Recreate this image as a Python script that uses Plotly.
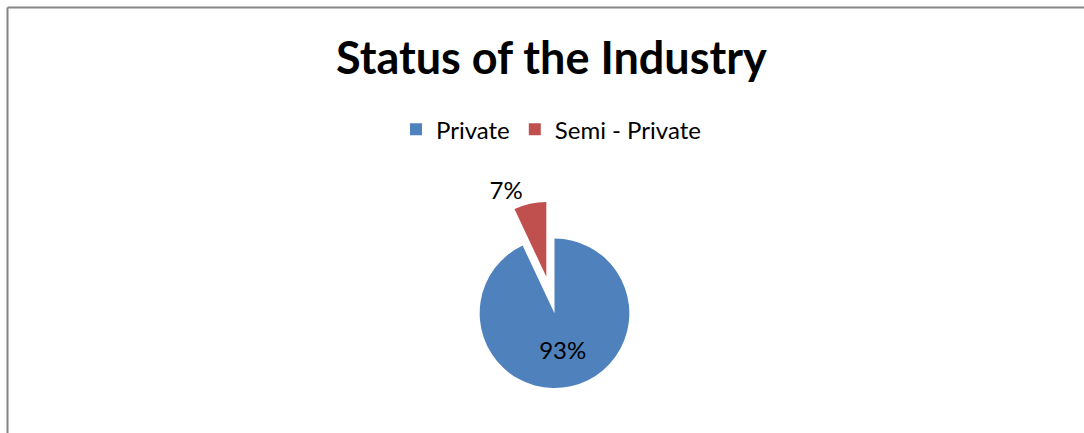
import plotly.graph_objects as go

W, H = 1084, 433       # reference picture size
HL = 468               # layout height (picture appears squeezed ~0.925 vertically)

labels = ["Private", "Semi - Private"]
values = [93, 7]
colors = ["#4F81BD", "#C0504D"]
pulls = [0, 0.5]
title_text = "Status of the Industry"

fig = go.Figure()
fig.add_trace(go.Pie(
    labels=labels,
    values=values,
    marker=dict(colors=colors, line=dict(width=0)),
    pull=pulls,
    sort=False,
    direction="clockwise",
    rotation=0,
    textinfo="percent",
    textposition=["inside", "outside"],
    insidetextorientation="horizontal",
    textfont=dict(family="Lato", size=24, color="#000000"),
    domain=dict(x=[442 / W, 667 / W], y=[1 - 426.5 / H, 1 - 201.5 / H]),
    showlegend=True,
))

fig.update_layout(
    width=W, height=HL,
    autosize=False,
    margin=dict(l=0, r=0, t=0, b=0, pad=0),
    paper_bgcolor="white",
    plot_bgcolor="white",
    font=dict(family="Lato", color="#000000"),
    legend=dict(
        orientation="h",
        x=551 / W, xanchor="center",
        y=1 - 130 / H, yanchor="middle",
        font=dict(family="Lato", size=24, color="#000000"),
        bgcolor="rgba(0,0,0,0)",
    ),
    annotations=[dict(
        text="<b>" + title_text + "</b>",
        x=551 / W, y=1 - 57 / H, xref="paper", yref="paper",
        xanchor="center", yanchor="middle", showarrow=False,
        font=dict(family="Lato", size=45, color="#000000"),
    )],
    shapes=[
        dict(type="line", xref="paper", yref="paper",
             x0=7.5 / W, x1=1.01, y0=1 - 7.5 / H, y1=1 - 7.5 / H,
             line=dict(color="#868686", width=2)),
        dict(type="line", xref="paper", yref="paper",
             x0=7.5 / W, x1=7.5 / W, y0=1 - 7.5 / H, y1=-0.01,
             line=dict(color="#868686", width=2)),
    ],
)

js = "document.body.style.margin='0px';document.body.style.overflow='hidden';"

fig.write_html(
    "out.html",
    config={"responsive": False, "displayModeBar": False},
    post_script=js,
)
